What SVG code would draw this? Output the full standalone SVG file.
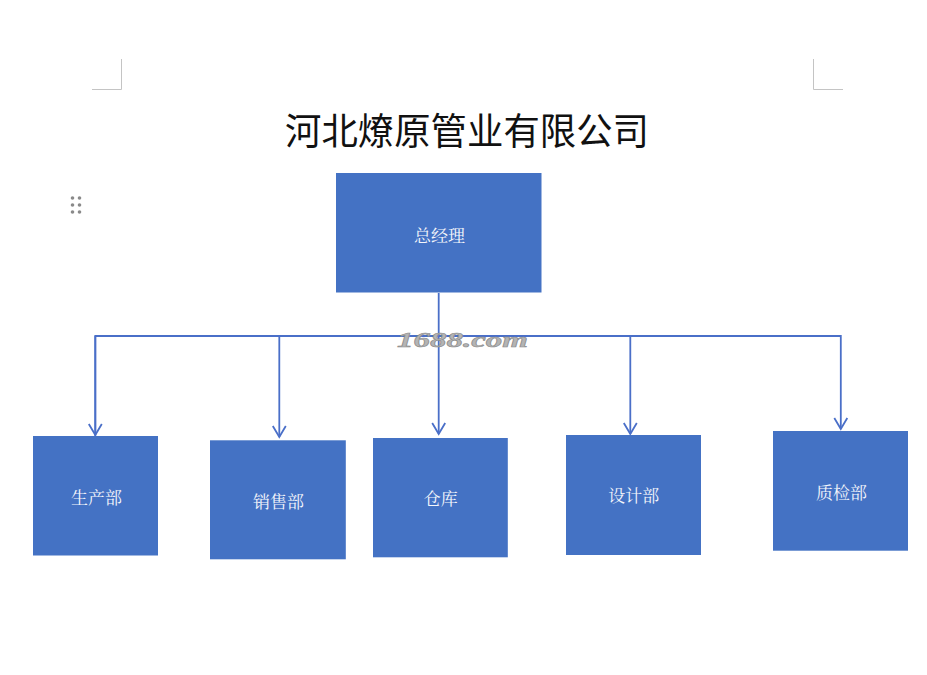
<svg xmlns="http://www.w3.org/2000/svg" width="927" height="675" viewBox="0 0 927 675">
<defs>
<style>
.box{fill:#4472C4;}
.lbl{fill:#f4f6fb;font-family:"Noto Serif CJK SC","Noto Sans CJK SC",serif;font-size:17px;text-anchor:middle;dominant-baseline:central;}
.conn{fill:none;stroke:#4A6FC8;stroke-width:1.8;}
.mark{fill:none;stroke:#c4c4c4;stroke-width:1;}
.dot{fill:#8a8a8a;}
</style>
<marker id="arr" viewBox="-12 -8 14 16" refX="0" refY="0" markerWidth="14" markerHeight="16" markerUnits="userSpaceOnUse" orient="auto">
<path d="M -11 -6.5 L 0 0 L -11 6.5" fill="none" stroke="#4A6FC8" stroke-width="1.8"/>
</marker>
</defs>
<rect width="927" height="675" fill="#ffffff"/>
<g id="page-marks">
<path class="mark" d="M121.5 59 V89.5 H92"/>
<path class="mark" d="M813.5 59 V89.5 H843"/>
<circle class="dot" cx="72.5" cy="198" r="1.8"/>
<circle class="dot" cx="79.5" cy="198" r="1.8"/>
<circle class="dot" cx="72.5" cy="205" r="1.8"/>
<circle class="dot" cx="79.5" cy="205" r="1.8"/>
<circle class="dot" cx="72.5" cy="212" r="1.8"/>
<circle class="dot" cx="79.5" cy="212" r="1.8"/>
</g>
<g id="title">
<text x="467" y="145" font-family="'Noto Sans CJK SC',sans-serif" font-size="37" fill="#111" text-anchor="middle" textLength="364" lengthAdjust="spacingAndGlyphs">河北燎原管业有限公司</text>
</g>
<g id="connectors">
<line class="conn" x1="438.7" y1="293" x2="438.7" y2="434" marker-end="url(#arr)"/>
<polyline class="conn" points="95.3,436 95.3,336 840.8,336 840.8,429" marker-end="url(#arr)"/>
<line class="conn" x1="95.3" y1="336" x2="95.3" y2="435" marker-end="url(#arr)"/>
<line class="conn" x1="279.3" y1="336" x2="279.3" y2="437" marker-end="url(#arr)"/>
<line class="conn" x1="630.3" y1="336" x2="630.3" y2="434" marker-end="url(#arr)"/>
</g>
<g id="node-gm">
<rect class="box" x="336" y="173" width="205.5" height="119.5"/>
<text class="lbl" x="439.5" y="234">总经理</text>
</g>
<g id="node-production">
<rect class="box" x="33" y="436" width="125" height="119.5"/>
<text class="lbl" x="96.5" y="496.5">生产部</text>
</g>
<g id="node-sales">
<rect class="box" x="210" y="440.3" width="135.8" height="119"/>
<text class="lbl" x="278.6" y="500.5">销售部</text>
</g>
<g id="node-warehouse">
<rect class="box" x="373" y="438" width="134.8" height="119.3"/>
<text class="lbl" x="440.8" y="497.8">仓库</text>
</g>
<g id="node-design">
<rect class="box" x="566" y="435" width="135" height="120"/>
<text class="lbl" x="633.8" y="494.7">设计部</text>
</g>
<g id="node-qc">
<rect class="box" x="773" y="431" width="135" height="119.7"/>
<text class="lbl" x="841.5" y="491.7">质检部</text>
</g>
<g id="watermark">
<text x="462.5" y="347" font-family="'Liberation Serif',serif" font-size="22" font-weight="bold" font-style="italic" fill="#b4b4b4" stroke="#8c8c8c" stroke-width="0.6" text-anchor="middle" textLength="131" lengthAdjust="spacingAndGlyphs">1688.com</text>
</g>
</svg>
